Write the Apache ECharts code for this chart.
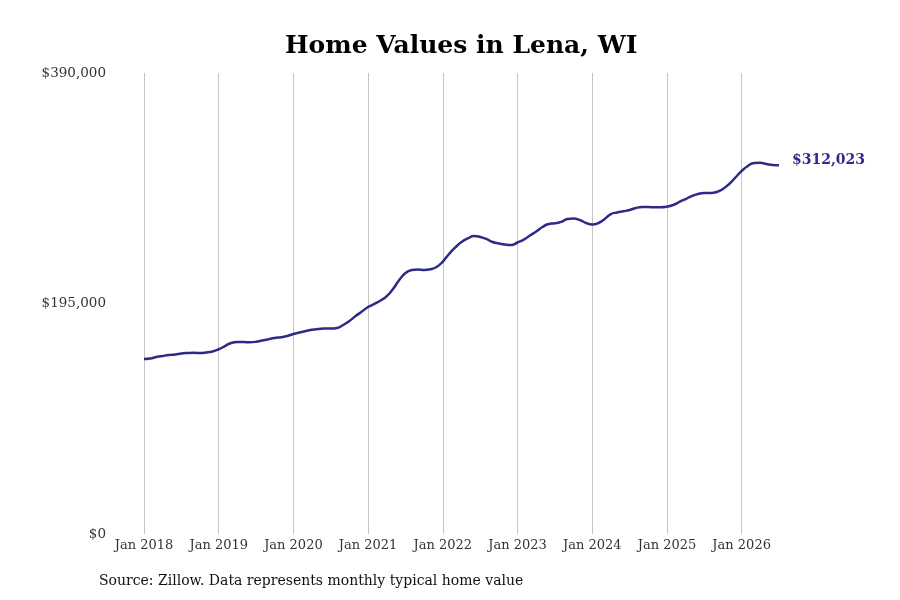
<!DOCTYPE html>
<html>
<head>
<meta charset="utf-8">
<script src="https://cdn.jsdelivr.net/npm/echarts@6/dist/echarts.min.js"></script>
<style>
html,body{margin:0;padding:0;background:#fff;}
#chart{width:900px;height:600px;}
</style>
</head>
<body>
<div id="chart"></div>
<script>
const titleText = 'Home Values in Lena, WI';
const sourceText = 'Source: Zillow. Data represents monthly typical home value';
const yTicks = [0, 195000, 390000];
const startYear = 2018;
const values2018 = [148050,148500,149700,150600,151400,151900,152700,153100,153300,153100,153500,154400];
const values2019 = [156300,159000,161600,162400,162400,162200,162600,163700,164800,165800,166500,167500];
const values2020 = [169200,170500,171700,172800,173400,173800,173800,174300,176800,180200,184400,188200];
const values2021 = [192000,194600,197500,201300,207300,214900,220800,223300,223800,223300,223900,225900];
const values2022 = [230500,236900,242400,247000,250000,252100,251300,249600,247000,245800,244900,244500];
const values2023 = [246600,249100,252500,255900,259700,262300,262900,264000,266500,266900,265600,263100];
const values2024 = [261800,263100,266500,270700,272000,273000,274100,275800,276600,276600,276400,276400];
const values2025 = [276900,278300,280900,283400,285900,287600,288500,288500,289300,291900,296100,301600];
const values2026 = [307100,311300,313900,314000,313000,312200,312023];

const values = [].concat(values2018, values2019, values2020, values2021, values2022, values2023, values2024, values2025, values2026);
const monthNames = ['Jan','Feb','Mar','Apr','May','Jun','Jul','Aug','Sep','Oct','Nov','Dec'];
const categories = values.map((v, i) => monthNames[i % 12] + ' ' + (startYear + Math.floor(i / 12)));
const isJan = (idx) => idx % 12 === 0;

const font = 'DejaVu Serif';
const lineColor = '#2e2b87';
const chart = echarts.init(document.getElementById('chart'));
chart.setOption({
  animation: false,
  backgroundColor: '#ffffff',
  title: {
    text: titleText,
    left: 280,
    top: 29,
    textStyle: {fontFamily: font, fontSize: 25, fontWeight: 'bold', color: '#000'}
  },
  graphic: [{
    type: 'text',
    left: 99,
    top: 574,
    style: {text: sourceText, font: '14px "DejaVu Serif"', fill: '#111'}
  }],
  grid: {left: 144, right: 121, top: 73, bottom: 66},
  xAxis: {
    type: 'category',
    data: categories,
    boundaryGap: false,
    axisLine: {show: false},
    axisTick: {show: false},
    axisLabel: {
      interval: (idx) => isJan(idx),
      margin: 5,
      fontFamily: font, fontSize: 13, color: '#333'
    },
    splitLine: {
      show: true,
      interval: (idx) => isJan(idx),
      lineStyle: {color: '#c4c4c4', width: 1}
    }
  },
  yAxis: {
    type: 'value',
    min: yTicks[0],
    max: yTicks[yTicks.length - 1],
    interval: yTicks[1] - yTicks[0],
    axisLine: {show: false},
    axisTick: {show: false},
    splitLine: {show: false},
    axisLabel: {
      margin: 38,
      padding: [3, 0, 0, 0],
      fontFamily: font, fontSize: 13.5, color: '#333',
      formatter: (v) => '$' + v.toLocaleString('en-US')
    }
  },
  series: [{
    type: 'line',
    data: values,
    smooth: true,
    showSymbol: false,
    lineStyle: {color: lineColor, width: 2.5},
    endLabel: {
      show: true,
      distance: 13,
      offset: [0, -5],
      formatter: (p) => '$' + p.value.toLocaleString('en-US'),
      fontFamily: font, fontSize: 14, fontWeight: 'bold', color: lineColor
    }
  }]
});
</script>
</body>
</html>
